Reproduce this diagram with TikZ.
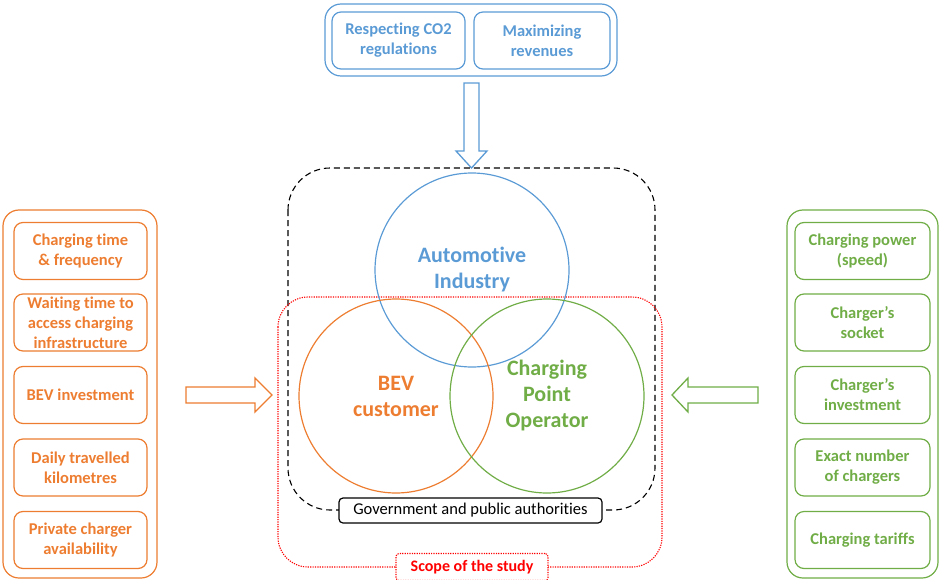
\documentclass[tikz,border=0pt]{standalone}
\usepackage{fontspec}
\setmainfont{Carlito}[Ligatures=NoCommon]
\usetikzlibrary{positioning}

\definecolor{autoblue}{HTML}{5B9BD5}
\definecolor{bevorange}{HTML}{ED7D31}
\definecolor{cpogreen}{HTML}{70AD47}
\definecolor{scopered}{HTML}{FF0000}

\tikzset{
  factor/.style={draw, line width=1.2pt, rounded corners=9pt, align=center,
    font=\fontsize{16.5}{20}\selectfont\bfseries, inner sep=0pt},
  group/.style={draw, line width=1.2pt, rounded corners=16pt, inner sep=0pt},
  actor/.style={circle, draw, line width=1.2pt, minimum size=194, inner sep=0pt,
    align=center, font=\fontsize{22}{26}\selectfont\bfseries},
  blockarrow/.style={line width=1.3pt, fill=white, line join=miter}
}

\begin{document}
\begin{tikzpicture}[x=1pt, y=-1pt]
\useasboundingbox (0,0) rectangle (941,580);

% top: automotive industry goals
\node[group, autoblue, minimum width=292, minimum height=72] (topgroup) at (471,40) {};
\node[factor, autoblue, text=autoblue, minimum width=133, minimum height=57] (co2) at (398.5,40.5) {Respecting CO2\\regulations};
\node[factor, autoblue, text=autoblue, minimum width=136, minimum height=57] (revenue) at (542,40.5) {Maximizing\\revenues};
\draw[blockarrow, draw=autoblue] (464,83) -- (479,83) -- (479,151) -- (487,151) -- (471.5,168)
  -- (456,151) -- (464,151) -- cycle;

% scope frames
\draw[dash pattern=on 6pt off 4pt, line width=1.1pt, rounded corners=42] (288,168) rectangle (655,510);
\draw[scopered, dash pattern=on 1.2pt off 1.2pt, line width=1.1pt, rounded corners=30] (278,297) rectangle (662,567);

% actors
\node[actor, autoblue, text=autoblue] (auto) at (472,270) {Automotive\\Industry};
\node[actor, bevorange, text=bevorange] (bev) at (396,396) {BEV\\customer};
\node[actor, cpogreen, text=cpogreen] (cpo) at (547,396) {Charging\\Point\\Operator};

\node[draw, fill=white, line width=1.2pt, rounded corners=4pt, minimum width=263, minimum height=25,
  font=\fontsize{16.5}{18}\selectfont] (gov) at (470.5,510.5) {Government and public authorities};
\node[draw=scopered, fill=white, dash pattern=on 1.2pt off 1.2pt, line width=1.1pt, rounded corners=3pt,
  text=scopered, minimum width=152, minimum height=27, font=\fontsize{16}{18}\selectfont\bfseries] (scope) at (472,567) {Scope of the study};

% left: BEV customer factors
\node[group, bevorange, minimum width=154, minimum height=368] (leftgroup) at (80,394) {};
\node[factor, bevorange, text=bevorange, minimum width=133, minimum height=57] (chtime) at (80.5,251) {Charging time\\\& frequency};
\node[factor, bevorange, text=bevorange, minimum width=133, minimum height=57] (waiting) at (80.5,322.5) {Waiting time to\\access charging\\infrastructure};
\node[factor, bevorange, text=bevorange, minimum width=133, minimum height=57] (bevinv) at (80.5,395) {BEV investment};
\node[factor, bevorange, text=bevorange, minimum width=133, minimum height=57] (daily) at (80.5,467.5) {Daily travelled\\kilometres};
\node[factor, bevorange, text=bevorange, minimum width=133, minimum height=57] (private) at (80.5,540) {Private charger\\availability};
\draw[blockarrow, draw=bevorange] (186,387) -- (255,387) -- (255,378) -- (272,395) -- (255,412)
  -- (255,403) -- (186,403) -- cycle;

% right: charging point operator factors
\node[group, cpogreen, minimum width=151, minimum height=368] (rightgroup) at (862.5,394) {};
\node[factor, cpogreen, text=cpogreen, minimum width=135, minimum height=57] (power) at (862.5,251) {Charging power\\(speed)};
\node[factor, cpogreen, text=cpogreen, minimum width=135, minimum height=57] (socket) at (862.5,322.5) {Charger’s\\socket};
\node[factor, cpogreen, text=cpogreen, minimum width=135, minimum height=57] (chinv) at (862.5,395) {Charger’s\\investment};
\node[factor, cpogreen, text=cpogreen, minimum width=135, minimum height=57] (number) at (862.5,467.5) {Exact number\\of chargers};
\node[factor, cpogreen, text=cpogreen, minimum width=135, minimum height=57] (tariffs) at (862.5,540) {Charging tariffs};
\draw[blockarrow, draw=cpogreen] (758,387) -- (688,387) -- (688,378) -- (672,395) -- (688,412)
  -- (688,403) -- (758,403) -- cycle;
\end{tikzpicture}
\end{document}
